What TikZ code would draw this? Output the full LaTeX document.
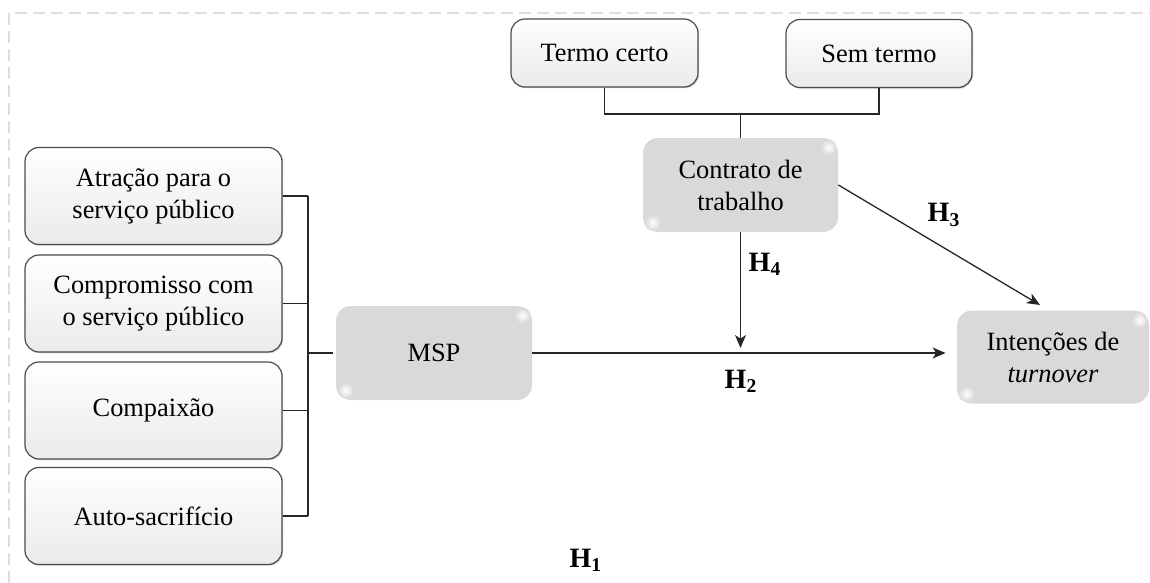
\documentclass[tikz,border=0pt]{standalone}
\usepackage{fontspec}
\setmainfont{Liberation Serif}
\usetikzlibrary{arrows.meta,shadows,calc}
\begin{document}
\begin{tikzpicture}[x=0.5pt,y=-0.5pt,
  txt/.style={font=\fontsize{13.2}{16}\selectfont, align=center, inner sep=0pt},
  wbox/.style={txt, rounded corners=7pt, draw=black!70, line width=0.6pt,
    top color=white, bottom color=black!8,
    drop shadow={shadow xshift=0.6pt, shadow yshift=-0.6pt, fill=black!35, opacity=0.5},
    minimum width=128.5pt, minimum height=48.5pt},
  gbox/.style={txt, rounded corners=7.5pt, fill=black!15},
  glow/.style={inner color=white, outer color=black!15},
  hl/.style={font=\bfseries\fontsize{14}{16}\selectfont, inner sep=0pt},
  ln/.style={line width=0.65pt, black!85},
  arr/.style={ln, -{Stealth[length=6.5pt,width=5.5pt,inset=1.8pt]}}
]
\useasboundingbox (0,0) rectangle (1150,583);
\draw[black!13, line width=0.6pt, dash pattern=on 6pt off 3pt] (9,583) -- (9,13) -- (1150,13);

% left boxes
\node[wbox] (a1) at (153.5,196) {Atração para o\\serviço público};
\node[wbox] (a2) at (153.5,303.5) {Compromisso com\\o serviço público};
\node[wbox] (a3) at (153.5,410.5) {Compaixão};
\node[wbox] (a4) at (153.5,516) {Auto-sacrifício};

% top boxes
\node[wbox, minimum width=93.5pt, minimum height=34pt] (tc) at (604.5,53) {Termo certo};
\node[wbox, minimum width=93pt, minimum height=34pt] (st) at (879,53.5) {Sem termo};

% gray boxes
\node[gbox, minimum width=98pt, minimum height=47pt] (msp) at (434,353) {};
\node[gbox, minimum width=97.5pt, minimum height=47pt] (ct) at (740.5,185) {};
\node[gbox, minimum width=96pt, minimum height=46.5pt] (it) at (1053,357) {};
\foreach \n in {msp,ct,it}{
  \shade[glow] ($(\n.north east)+(-5pt,-5pt)$) circle[radius=4pt];
  \shade[glow] ($(\n.south west)+(5pt,5pt)$) circle[radius=4pt];
}
\node[txt] (msptxt) at (msp) {MSP};
\node[txt] (cttxt) at (ct) {Contrato de\\trabalho};
\node[txt] (ittxt) at (it) {Intenções de\\\textit{turnover}};

% left bracket
\coordinate (brk) at (308,0);
\draw[ln] (a1.east) -- (a1.east -| brk);
\draw[ln] (a2.east) -- (a2.east -| brk);
\draw[ln] (a3.east) -- (a3.east -| brk);
\draw[ln] (a4.east) -- (a4.east -| brk);
\draw[ln] (a1.east -| brk) -- (a4.east -| brk);
\draw[ln] (brk |- msp.west) -- ([xshift=-1.5pt]msp.west);

% top bracket
\coordinate (tb) at (0,114);
\draw[ln] (tc.south) -- (tc.south |- tb) -- (st.south |- tb) -- (st.south);
\draw[ln] (ct.north) -- (ct.north |- tb);

% arrows
\coordinate (h3end) at (1040,305);
\draw[arr, shorten >=5.5pt] (msp.east) -- (it.west |- msp.east);
\draw[arr, shorten >=2.5pt] (ct.south) -- (ct.south |- msp.east);
\draw[arr] (ct.east) -- (h3end);

% labels
\node[hl] (h4) at (765,264) {H\textsubscript{4}};
\node[hl] (h2) at (741,381) {H\textsubscript{2}};
\node[hl] (h3) at (944,215) {H\textsubscript{3}};
\node[hl] (h1) at (586,560) {H\textsubscript{1}};
\end{tikzpicture}
\end{document}
